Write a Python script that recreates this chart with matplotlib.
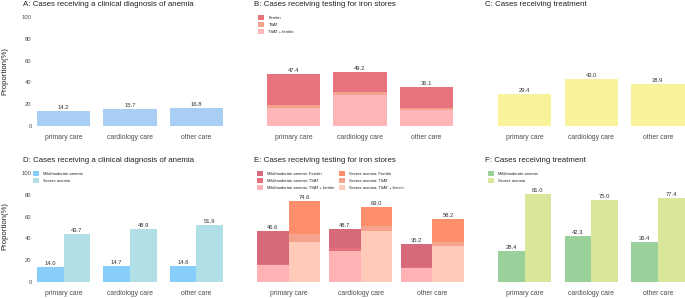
import numpy as np
import matplotlib
matplotlib.use("Agg")
from matplotlib import pyplot as plt

plt.rcParams['font.family'] = ['Liberation Sans', 'DejaVu Sans']

cats = ["primary care", "cardiology care", "other care"]

# A / C
diag = [14.2, 15.7, 16.8]
treat = [29.4, 43.0, 38.9]

# B
test_both = [16.8, 28.4, 14.7]
test_tsat = [2.5, 3.1, 2.1]
test_ferritin = [28.1, 17.7, 19.3]
test_total = [47.4, 49.2, 36.1]

# D
diag_mild = [14.0, 14.7, 14.6]
diag_severe = [43.7, 48.9, 51.9]

# E
mild_both = [15.5, 28.4, 13.0]
mild_tsat = [1.2, 2.5, 1.2]
mild_ferritin = [29.9, 17.8, 21.0]
mild_total = [46.6, 48.7, 35.2]
sev_both = [36.7, 47.0, 33.0]
sev_tsat = [7.3, 4.3, 3.8]
sev_ferritin = [30.6, 17.7, 21.4]
sev_total = [74.6, 69.0, 58.2]

# F
treat_mild = [28.4, 42.3, 36.4]
treat_severe = [81.0, 75.0, 77.4]

W, H = 685, 298
fig = plt.figure(figsize=(W / 100, H / 100), dpi=100)


def rect(l, r, top, bottom):
    return [l / W, 1 - bottom / H, (r - l) / W, (bottom - top) / H]


def fpos(x, y):
    return (x / W, 1 - y / H)


TXT = "#222222"
TICK = "#4d4d4d"
VAL = "#333333"


def make_ax(l, r, top, bottom, title, tx, ty, yaxis=False, xl=(-0.45, 2.45)):
    ax = fig.add_axes(rect(l, r, top, bottom))
    ax.set_xlim(*xl)
    ax.set_ylim(-5, 105)
    for s in ax.spines.values():
        s.set_visible(False)
    ax.set_xticks(range(len(cats)))
    ax.set_xticklabels(cats, fontsize=4.9, color=TICK)
    ax.tick_params(axis="x", length=0, pad=2.0)
    if yaxis:
        ax.set_yticks([0, 20, 40, 60, 80, 100])
        ax.tick_params(axis="y", length=0, pad=1.5, labelsize=4.2, labelcolor=TICK)
    else:
        ax.set_yticks([])
    ax.patch.set_alpha(0)
    fig.text(*fpos(tx, ty), title, fontsize=5.7, color=TXT, va="center", ha="left")
    return ax


def vlabel(ax, x, v):
    ax.text(x, v + 0.9, f"{v:.1f}", ha="center", va="bottom", fontsize=4.2, color=VAL)


def leg(ax, handles, labels, x, y, ncol=1):
    fig.legend(handles, labels, loc="upper left", bbox_to_anchor=fpos(x, y),
               bbox_transform=fig.transFigure, frameon=False, fontsize=2.9,
               handlelength=1.6, handleheight=1.6, handletextpad=1.0,
               labelspacing=0.45, borderpad=0, borderaxespad=0, ncol=ncol,
               columnspacing=1.0, labelcolor=TXT)


x = np.arange(len(cats))
TOP = (11.55, 131.45)
BOT = (167.55, 287.45)

# A
axA = make_ax(33.6, 226.4, *TOP, "A: Cases receiving a clinical diagnosis of anemia", 23, 5, yaxis=True)
axA.bar(x, diag, width=0.8, color="#a9cef4")
for i, v in enumerate(diag):
    vlabel(axA, x[i], v)
fig.text(*fpos(5, 71), "Proportion(%)", rotation=90, fontsize=5.6, color=TXT, va="center", ha="center")

# B
axB = make_ax(263.6, 456.4, *TOP, "B: Cases receiving testing for iron stores", 254, 5)
b1 = axB.bar(x, test_both, width=0.8, color="#ffb6b8")
b2 = axB.bar(x, test_tsat, width=0.8, bottom=test_both, color="#f5a38e")
b3 = axB.bar(x, test_ferritin, width=0.8, bottom=np.add(test_both, test_tsat), color="#e8737f")
for i, v in enumerate(test_total):
    vlabel(axB, x[i], v)
leg(axB, [b3, b2, b1], ["Ferritin", "TSAT", "TSAT + ferritin"], 258, 15)

# C
axC = make_ax(494.6, 687.9, *TOP, "C: Cases receiving treatment", 485, 5)
axC.bar(x, treat, width=0.8, color="#f8f29a")
for i, v in enumerate(treat):
    vlabel(axC, x[i], v)

# D
axD = make_ax(33.6, 226.4, *BOT, "D: Cases receiving a clinical diagnosis of anemia", 23, 160, yaxis=True)
w = 0.4
d1 = axD.bar(x - w / 2, diag_mild, width=w, color="#87cefa")
d2 = axD.bar(x + w / 2, diag_severe, width=w, color="#b0e0e6")
for i in range(len(cats)):
    vlabel(axD, x[i] - w / 2, diag_mild[i])
    vlabel(axD, x[i] + w / 2, diag_severe[i])
fig.text(*fpos(5, 226), "Proportion(%)", rotation=90, fontsize=5.6, color=TXT, va="center", ha="center")
leg(axD, [d1, d2], ["Mild/moderate anemia", "Severe anemia"], 33, 171)

# E
axE = make_ax(256.1, 464.9, *BOT, "E: Cases receiving testing for iron stores", 254, 160)
w = 0.4375
e1 = axE.bar(x - w / 2, mild_both, width=w, color="#ffb3b7")
e2 = axE.bar(x - w / 2, mild_tsat, width=w, bottom=mild_both, color="#e4707e")
e3 = axE.bar(x - w / 2, mild_ferritin, width=w, bottom=np.add(mild_both, mild_tsat), color="#d6697a")
e4 = axE.bar(x + w / 2, sev_both, width=w, color="#ffcab8")
e5 = axE.bar(x + w / 2, sev_tsat, width=w, bottom=sev_both, color="#f6a38d")
e6 = axE.bar(x + w / 2, sev_ferritin, width=w, bottom=np.add(sev_both, sev_tsat), color="#ff8f6a")
for i in range(len(cats)):
    vlabel(axE, x[i] - w / 2, mild_total[i])
    vlabel(axE, x[i] + w / 2, sev_total[i])
leg(axE, [e3, e2, e1, e6, e5, e4],
    ["Mild/moderate anemia: Ferritin", "Mild/moderate anemia: TSAT",
     "Mild/moderate anemia: TSAT + ferritin", "Severe anemia: Ferritin",
     "Severe anemia: TSAT", "Severe anemia: TSAT + ferritin"], 257, 171, ncol=2)

# F
axF = make_ax(494.6, 687.9, *BOT, "F: Cases receiving treatment", 485, 160)
w = 0.4
f1 = axF.bar(x - w / 2, treat_mild, width=w, color="#9ad19b")
f2 = axF.bar(x + w / 2, treat_severe, width=w, color="#d9e79b")
for i in range(len(cats)):
    vlabel(axF, x[i] - w / 2, treat_mild[i])
    vlabel(axF, x[i] + w / 2, treat_severe[i])
leg(axF, [f1, f2], ["Mild/moderate anemia", "Severe anemia"], 488, 171)

fig.savefig("out.png", dpi=100)
